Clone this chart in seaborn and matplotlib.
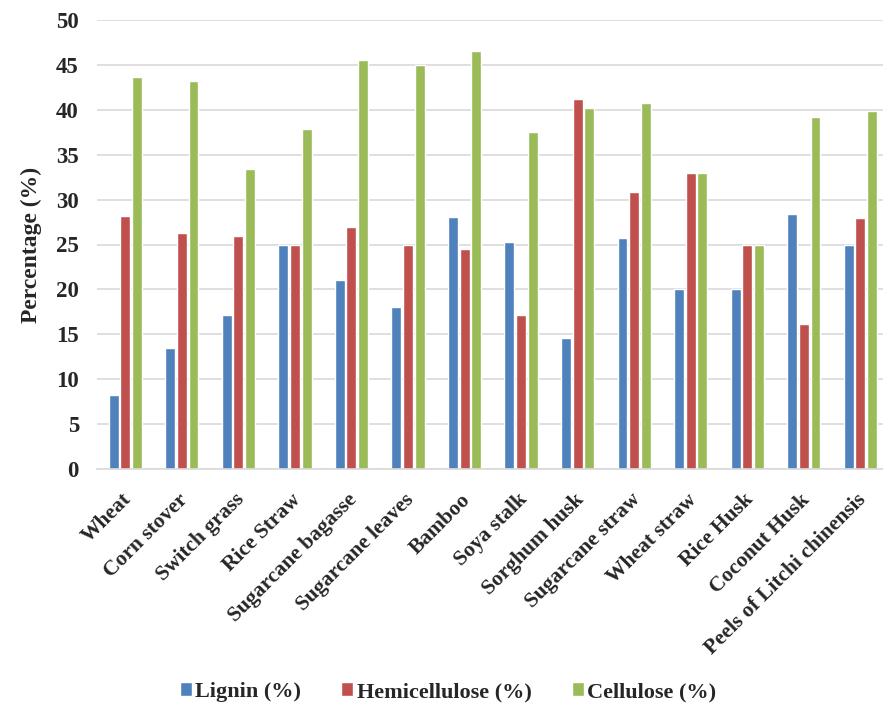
import numpy as np
import pandas as pd
import matplotlib
matplotlib.use("Agg")
import matplotlib.pyplot as plt
import matplotlib.transforms as mtransforms
import seaborn as sns

biomass = ["Wheat", "Corn stover", "Switch grass", "Rice Straw", "Sugarcane bagasse",
           "Sugarcane leaves", "Bamboo", "Soya stalk", "Sorghum husk", "Sugarcane straw",
           "Wheat straw", "Rice Husk", "Coconut Husk", "Peels of Litchi chinensis"]
lignin = [8.2, 13.5, 17.2, 25.0, 21.0, 18.0, 28.1, 25.3, 14.6, 25.7, 20.0, 20.0, 28.4, 25.0]
hemicellulose = [28.2, 26.3, 26.0, 25.0, 27.0, 25.0, 24.5, 17.2, 41.2, 30.8, 33.0, 25.0, 16.1, 28.0]
cellulose = [43.6, 43.2, 33.4, 37.9, 45.5, 45.0, 46.6, 37.5, 40.2, 40.8, 33.0, 25.0, 39.2, 39.9]
components = ["Lignin (%)", "Hemicellulose (%)", "Cellulose (%)"]
colors = ["#4F81BD", "#C0504D", "#9BBB59"]

df = pd.DataFrame({"Biomass": biomass, components[0]: lignin,
                   components[1]: hemicellulose, components[2]: cellulose})
long = df.melt(id_vars="Biomass", var_name="Component", value_name="Percentage")

sns.set_style("white")
plt.rcParams["font.family"] = ["Liberation Serif", "DejaVu Serif"]
plt.rcParams["font.weight"] = "bold"

fig = plt.figure(figsize=(8.83, 7.10), dpi=100)
ax = fig.add_axes([97 / 883, 1 - 469 / 710, 1 - 97 / 883, 449 / 710])

sns.barplot(data=long, x="Biomass", y="Percentage", hue="Component",
            palette=colors, width=0.62, gap=0.15, saturation=1, ax=ax)

ax.set_ylim(0, 50)
ax.set_yticks(np.arange(0, 51, 5))
ax.set_xlim(-0.5, 13.4)
ax.yaxis.grid(True, color="#D9D9D9", linewidth=1.2)
ax.set_axisbelow(True)
for s in ["top", "right", "left"]:
    ax.spines[s].set_visible(False)
ax.spines["bottom"].set_color("#D9D9D9")
ax.spines["bottom"].set_linewidth(1.2)
ax.tick_params(axis="both", length=0)
ax.tick_params(axis="y", labelsize=16.5, pad=13)
ax.tick_params(axis="x", labelsize=15.5, pad=20)
for lbl in ax.get_yticklabels():
    lbl.set_fontweight("bold")
shift = mtransforms.ScaledTranslation(3 / 100, 0, fig.dpi_scale_trans)
for lbl in ax.get_xticklabels():
    lbl.set_rotation(45)
    lbl.set_ha("right")
    lbl.set_va("center")
    lbl.set_rotation_mode("anchor")
    lbl.set_fontweight("bold")
    lbl.set_transform(lbl.get_transform() + shift)
ax.set_xlabel("")
ax.set_ylabel("Percentage (%)", fontsize=17, fontweight="bold", labelpad=10)

handles, labels = ax.get_legend_handles_labels()
ax.get_legend().remove()
fig.legend(handles, labels, loc="center", bbox_to_anchor=(448 / 883, 1 - 692 / 710), ncol=3,
           frameon=False, handlelength=0.55, handleheight=0.55, handletextpad=0.15,
           columnspacing=1.8, prop={"size": 16, "weight": "bold"})

fig.savefig("out.png", dpi=100)
